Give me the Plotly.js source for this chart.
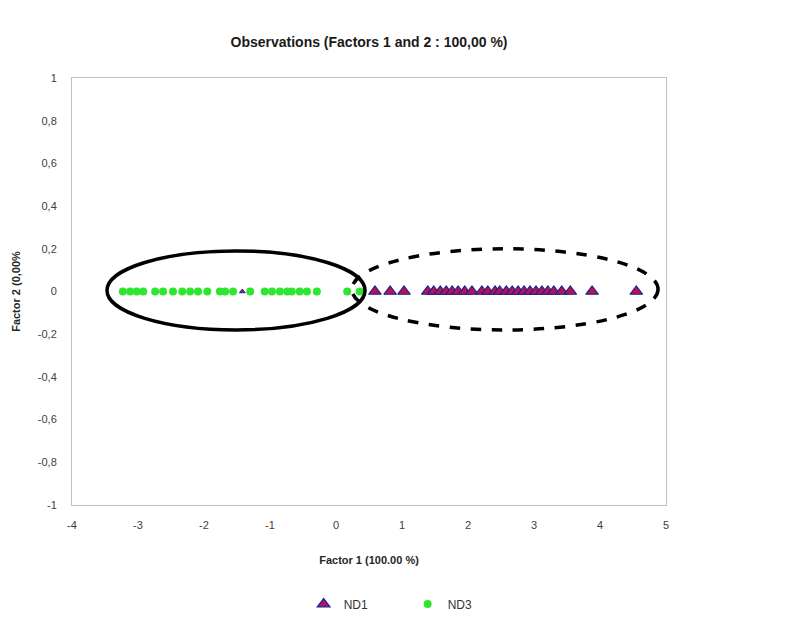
<!DOCTYPE html>
<html>
<head>
<meta charset="utf-8">
<script src="https://cdn.plot.ly/plotly-3.0.1.min.js"></script>
<style>html,body{margin:0;padding:0;background:#fff;}#chart{width:796px;height:630px;}</style>
</head>
<body>
<div id="chart"></div>
<script>
// ND1 observations (Factor 1 scores); Factor 2 is 0 for all
var nd1X = [0.59, 0.82, 1.03, 1.39, 1.48, 1.58, 1.67, 1.76, 1.85, 1.95, 2.06, 2.21, 2.30, 2.41, 2.48, 2.58, 2.67, 2.76, 2.85, 2.94, 3.03, 3.12, 3.21, 3.30, 3.42, 3.55, 3.88, 4.55];
var nd1Y = nd1X.map(function(){return 0;});
// small centroid-like triangle
var nd1SmallX = [-1.42];
var nd1SmallY = [0];
// ND3 observations
var nd3X = [-3.23, -3.12, -3.02, -2.92, -2.74, -2.62, -2.47, -2.33, -2.21, -2.09, -1.95, -1.76, -1.68, -1.56, -1.30, -1.08, -0.97, -0.85, -0.74, -0.67, -0.55, -0.44, -0.29, 0.17, 0.36];
var nd3Y = nd3X.map(function(){return 0;});

var xTicks = [-4, -3, -2, -1, 0, 1, 2, 3, 4, 5];
var yTicks = [-1, -0.8, -0.6, -0.4, -0.2, 0, 0.2, 0.4, 0.6, 0.8, 1];
var yTickText = ['-1', '-0,8', '-0,6', '-0,4', '-0,2', '0', '0,2', '0,4', '0,6', '0,8', '1'];

// annotation ellipses (group outlines)
var solidEllipse = {x0: -3.47, x1: 0.44, y0: -0.18, y1: 0.19};
var dashedEllipse = {x0: 0.24, x1: 4.88, y0: -0.18, y1: 0.20};

var fontFam = '"Liberation Sans", "DejaVu Sans", Arial, sans-serif';

var traces = [
  {
    x: nd1X, y: nd1Y, mode: 'markers', type: 'scatter', name: 'ND1',
    marker: {symbol: 'triangle-up', size: 11, color: '#b01550', line: {color: '#1c1c9c', width: 1.2}}
  },
  {
    x: nd3X, y: nd3Y, mode: 'markers', type: 'scatter', name: 'ND3',
    marker: {symbol: 'circle', size: 8, color: '#2ee62e', line: {width: 0}}
  },
  {
    x: nd1SmallX, y: nd1SmallY, mode: 'markers', type: 'scatter', name: 'ND1 centroid', showlegend: false,
    marker: {symbol: 'triangle-up', size: 5, color: '#b01550', line: {color: '#1c1c9c', width: 1}}
  }
];

var layout = {
  width: 796, height: 630,
  paper_bgcolor: '#ffffff', plot_bgcolor: '#ffffff',
  margin: {l: 72, r: 130, t: 78, b: 125},
  title: {text: '<b>Observations (Factors 1 and 2 : 100,00 %)</b>', x: 0.5, xanchor: 'center', xref: 'paper', y: 0.933, yanchor: 'middle',
          font: {family: fontFam, size: 14, color: '#1a1a1a'}},
  showlegend: true,
  legend: {orientation: 'h', x: 0.39, xanchor: 'left', xref: 'paper', y: -0.232, yanchor: 'middle',
           font: {family: fontFam, size: 12, color: '#333'}, itemwidth: 30, entrywidth: 59, entrywidthmode: 'pixels'},
  xaxis: {
    range: [-4, 5], tickvals: xTicks, ticktext: xTicks.map(String),
    showgrid: false, zeroline: false, showline: true, linecolor: '#bfbfbf', linewidth: 1, mirror: true,
    ticks: '', ticklen: 0, ticklabelstandoff: 10, tickfont: {family: fontFam, size: 11, color: '#404040'},
    title: {text: '<b>Factor 1 (100.00 %)</b>', font: {family: fontFam, size: 11, color: '#262626'}, standoff: 26}
  },
  yaxis: {
    range: [-1, 1], tickvals: yTicks, ticktext: yTickText,
    showgrid: false, zeroline: false, showline: true, linecolor: '#bfbfbf', linewidth: 1, mirror: true,
    ticks: '', ticklen: 0, ticklabelstandoff: 12, tickfont: {family: fontFam, size: 11, color: '#404040'},
    title: {text: '<b>Factor 2 (0,00%</b>', font: {family: fontFam, size: 11, color: '#262626'}, standoff: 14}
  },
  shapes: [
    {type: 'circle', xref: 'x', yref: 'y', x0: solidEllipse.x0, x1: solidEllipse.x1, y0: solidEllipse.y0, y1: solidEllipse.y1,
     line: {color: '#000', width: 3.5}, layer: 'above'},
    {type: 'circle', xref: 'x', yref: 'y', x0: dashedEllipse.x0, x1: dashedEllipse.x1, y0: dashedEllipse.y0, y1: dashedEllipse.y1,
     line: {color: '#000', width: 3.5, dash: 'dash'}, layer: 'above'}
  ]
};

Plotly.newPlot('chart', traces, layout, {displayModeBar: false, staticPlot: true});
</script>
</body>
</html>
